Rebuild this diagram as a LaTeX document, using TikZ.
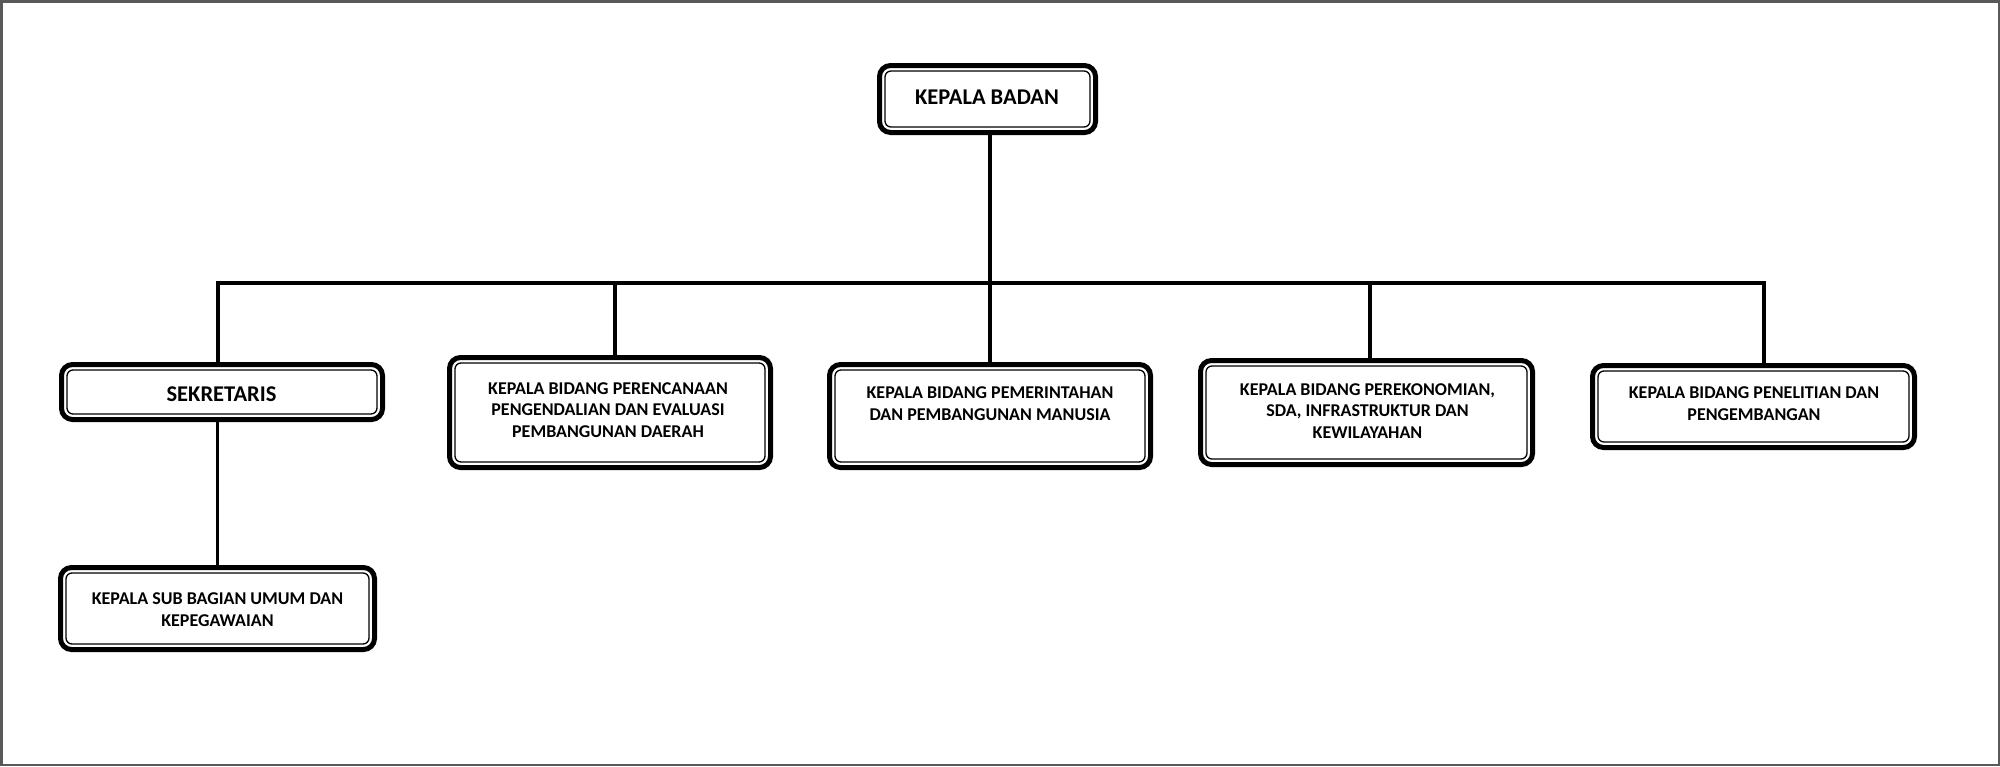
\documentclass[tikz,border=0pt]{standalone}
\usepackage{fontspec}
\setmainfont{Carlito}
\begin{document}
\begin{tikzpicture}[x=1pt,y=-1pt,
  box/.style={draw, line width=5pt, rounded corners=11pt, outer sep=0pt, inner sep=0pt},
  txt/.style={font=\bfseries\fontsize{18}{21.7}\selectfont, align=center, inner sep=0pt},
  big/.style={font=\bfseries\fontsize{22.5}{27}\selectfont, inner sep=0pt},
  conn/.style={line width=3.5pt}]
\useasboundingbox (0,0) rectangle (2000,766);
\draw[line width=2.5pt, draw=black!65] (1.25,1.25) rectangle (1998.75,764.75);
% boxes
\node[box, minimum width=216pt, minimum height=67pt] (kb) at (987.5,99) {};
\node[box, minimum width=321pt, minimum height=55pt] (sek) at (222,392) {};
\node[box, minimum width=314pt, minimum height=82pt] (sub) at (217.5,608.5) {};
\node[box, minimum width=321pt, minimum height=110pt] (per) at (610,412.5) {};
\node[box, minimum width=321pt, minimum height=103pt] (pem) at (990,416) {};
\node[box, minimum width=332pt, minimum height=104pt] (eko) at (1366.5,412.5) {};
\node[box, minimum width=322pt, minimum height=82pt] (pen) at (1753.5,406.5) {};
\foreach \n in {kb,sek,sub,per,pem,eko,pen}
  \draw[line width=1.3pt, rounded corners=6pt] ([shift={(5.5pt,-5.5pt)}]\n.north west) rectangle ([shift={(-5.5pt,5.5pt)}]\n.south east);
% texts
\node[big] (kbt) at (987,97) {KEPALA BADAN};
\node[big] (sekt) at (221.5,394.5) {SEKRETARIS};
\node[txt] (subt) at (217.5,610) {KEPALA SUB BAGIAN UMUM DAN\\KEPEGAWAIAN};
\node[txt] (pert) at (608,410) {KEPALA BIDANG PERENCANAAN\\PENGENDALIAN DAN EVALUASI\\PEMBANGUNAN DAERAH};
\node[txt] (pemt) at (990,404) {KEPALA BIDANG PEMERINTAHAN\\DAN PEMBANGUNAN MANUSIA};
\node[txt] (ekot) at (1367.5,411) {KEPALA BIDANG PEREKONOMIAN,\\SDA, INFRASTRUKTUR DAN\\KEWILAYAHAN};
\node[txt] (pent) at (1754,404) {KEPALA BIDANG PENELITIAN DAN\\PENGEMBANGAN};
% connectors
\coordinate (j) at (990,283);
\coordinate (hL) at (218,283);
\coordinate (hR) at (1764,283);
\coordinate (d2) at (615,283);
\coordinate (d4) at (1370,283);
\draw[conn] (j |- kb.south) -- (j);
\draw[conn] (hL |- sek.north) -- (hL) -- (hR) -- (hR |- pen.north);
\draw[conn] (d2) -- (d2 |- per.north);
\draw[conn] (j) -- (j |- pem.north);
\draw[conn] (d4) -- (d4 |- eko.north);
\draw[conn] (sub.north |- sek.south) -- (sub.north);
\end{tikzpicture}
\end{document}
